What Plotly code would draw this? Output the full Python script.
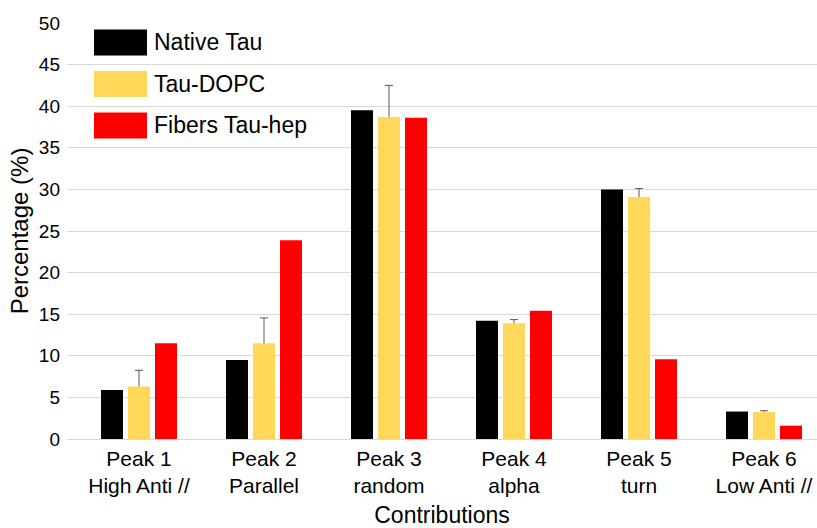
import plotly.graph_objects as go

# Secondary-structure contributions per peak
categories = ["Peak 1<br>High Anti //", "Peak 2<br>Parallel", "Peak 3<br>random",
              "Peak 4<br>alpha", "Peak 5<br>turn", "Peak 6<br>Low Anti //"]
series_names = ["Native Tau", "Tau-DOPC", "Fibers Tau-hep"]
native_tau = [5.9, 9.5, 39.5, 14.2, 30.0, 3.3]
tau_dopc = [6.3, 11.5, 38.7, 13.9, 29.1, 3.25]
tau_dopc_err = [1.95, 3.05, 3.8, 0.45, 1.0, 0.15]
fibers_tau_hep = [11.5, 23.9, 38.6, 15.4, 9.6, 1.6]
y_ticks = [0, 5, 10, 15, 20, 25, 30, 35, 40, 45, 50]

colors = ["#000000", "#FFD85A", "#FF0000"]
FONT = "Liberation Sans, Arial, sans-serif"

x_pos = list(range(len(categories)))
bar_w = 0.176
offsets = [-0.304, -0.088, 0.128]

fig = go.Figure()

# Upward-only error bars for Tau-DOPC; drawn first on a transparent copy of the
# bars so the lower cap sits hidden underneath the yellow bar drawn afterwards.
fig.add_trace(go.Bar(
    x=x_pos, y=tau_dopc, width=bar_w, offset=offsets[1],
    marker=dict(color="rgba(0,0,0,0)", line=dict(width=0)),
    error_y=dict(type="data", symmetric=False, array=tau_dopc_err,
                 arrayminus=[0.4] * len(tau_dopc_err),
                 color="#595959", thickness=1, width=4),
    showlegend=False, hoverinfo="skip"))

values = [native_tau, tau_dopc, fibers_tau_hep]
for i, (name, vals) in enumerate(zip(series_names, values)):
    fig.add_trace(go.Bar(
        x=x_pos, y=vals, name=name, width=bar_w, offset=offsets[i],
        marker=dict(color=colors[i], line=dict(width=0)),
        showlegend=False))

# Legend drawn as large swatches with labels
legend_rows = [42.5, 84, 125.5]  # pixel centres from top of the figure
plot_top, plot_bottom = 23, 439.3


def to_paper(py):
    return (plot_bottom - py) / (plot_bottom - plot_top)


for name, col, yc in zip(series_names, colors, legend_rows):
    fig.add_shape(type="rect", xref="paper", yref="paper",
                  x0=(94 - 67) / 750, x1=(147 - 67) / 750,
                  y0=to_paper(yc + 13), y1=to_paper(yc - 13),
                  fillcolor=col, line=dict(width=0))
    fig.add_annotation(xref="paper", yref="paper", x=(152 - 67) / 750,
                       y=to_paper(yc), text=name, showarrow=False,
                       xanchor="left", yanchor="middle",
                       font=dict(family=FONT, size=23, color="#000000"))

fig.update_layout(
    width=817, height=528,
    barmode="overlay",
    margin=dict(l=67, r=0, t=23, b=89),
    paper_bgcolor="white", plot_bgcolor="white",
    font=dict(family=FONT, color="#000000"),
    xaxis=dict(range=[-0.576, 5.424], tickvals=x_pos, ticktext=categories,
               tickfont=dict(size=21), showgrid=False, zeroline=False,
               showline=False, ticks="", ticklabelstandoff=5,
               title=dict(text="Contributions", font=dict(size=23), standoff=12)),
    yaxis=dict(range=[0, 50], tickvals=y_ticks, tickfont=dict(size=19),
               showgrid=True, gridcolor="#D9D9D9", gridwidth=1.3,
               zeroline=True, zerolinecolor="#D9D9D9", zerolinewidth=1.3,
               showline=False, ticks="", ticklabelstandoff=6,
               title=dict(text="Percentage (%)", font=dict(size=24), standoff=3)),
)

fig.write_html("out.html")
